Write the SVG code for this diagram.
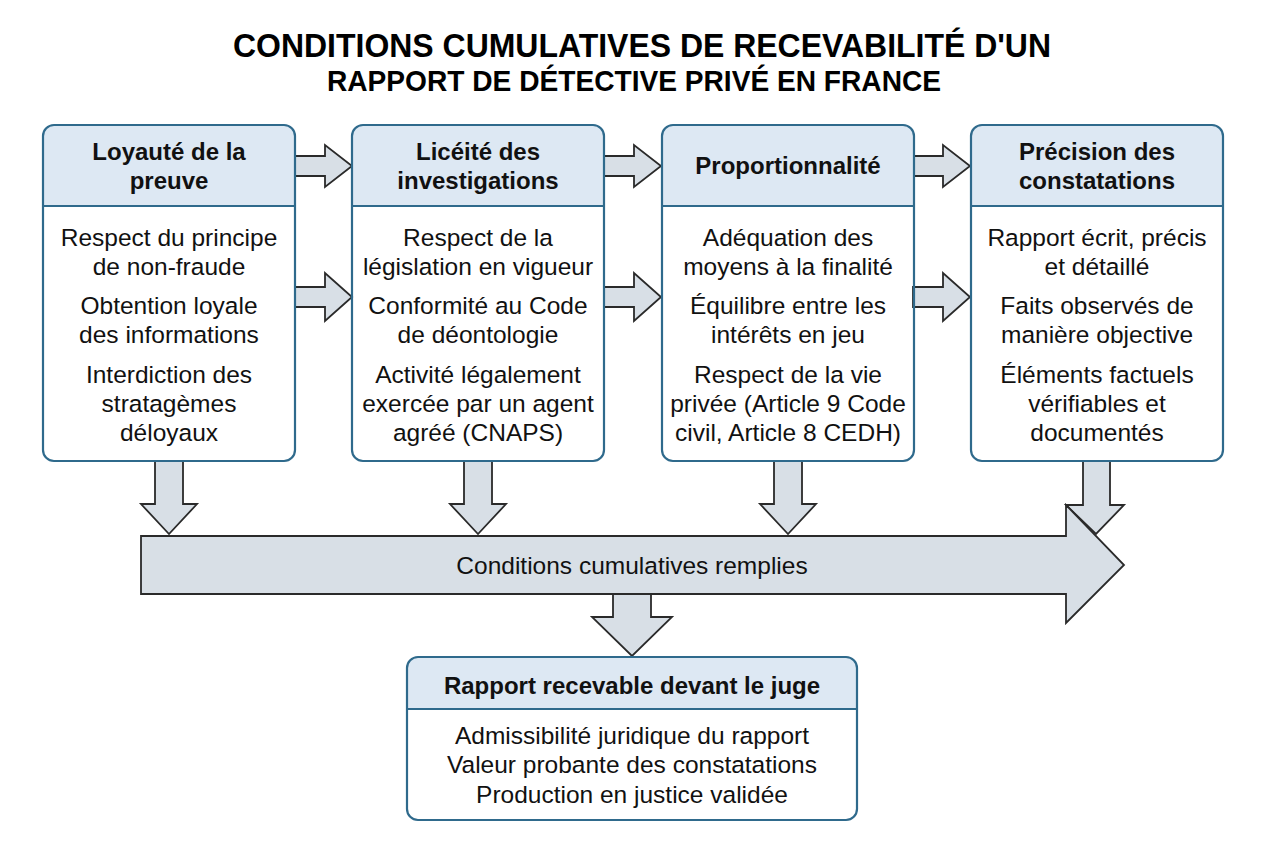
<svg xmlns="http://www.w3.org/2000/svg" width="1264" height="848" viewBox="0 0 1264 848">
<defs>
<style>
.box{fill:none;stroke:#2f6a8c;stroke-width:2.2}
.hdr{fill:#dde8f3}
.div{stroke:#2f6a8c;stroke-width:2.2}
.arr{fill:#d8dfe6;stroke:#2a2a2a;stroke-width:1.8;stroke-linejoin:miter}
.h{font-family:"Liberation Sans",Arial,sans-serif;font-weight:bold;font-size:24px;fill:#111;text-anchor:middle}
.b{font-family:"Liberation Sans",Arial,sans-serif;font-size:24.5px;fill:#111;text-anchor:middle}
.t{font-family:"Liberation Sans",Arial,sans-serif;font-weight:bold;fill:#000;text-anchor:middle}
</style>
<clipPath id="c1"><rect x="43" y="125" width="252" height="336" rx="11"/></clipPath>
<clipPath id="c2"><rect x="352" y="125" width="252" height="336" rx="11"/></clipPath>
<clipPath id="c3"><rect x="662" y="125" width="252" height="336" rx="11"/></clipPath>
<clipPath id="c4"><rect x="971" y="125" width="252" height="336" rx="11"/></clipPath>
<clipPath id="c5"><rect x="407" y="657" width="450" height="163" rx="11"/></clipPath>
</defs>
<rect width="1264" height="848" fill="#ffffff"/>

<g id="title">
<text class="t" x="642" y="57" font-size="34" textLength="818" lengthAdjust="spacingAndGlyphs">CONDITIONS CUMULATIVES DE RECEVABILITÉ D'UN</text>
<text class="t" x="634" y="91" font-size="30" textLength="614" lengthAdjust="spacingAndGlyphs">RAPPORT DE DÉTECTIVE PRIVÉ EN FRANCE</text>
</g>

<g id="connectors">
<path class="arr" d="M295,156 H325 V145 L352,166 L325,187 V176 H295 Z"/>
<path class="arr" d="M604,156 H634 V145 L661,166 L634,187 V176 H604 Z"/>
<path class="arr" d="M913,156 H943 V145 L970,166 L943,187 V176 H913 Z"/>
<path class="arr" d="M295,287 H325 V273 L352,297 L325,321 V307 H295 Z"/>
<path class="arr" d="M604,287 H634 V273 L661,297 L634,321 V307 H604 Z"/>
<path class="arr" d="M913,287 H943 V273 L970,297 L943,321 V307 H913 Z"/>
<path class="arr" d="M155,461 V504 H141 L169,534 L197,504 H183 V461 Z"/>
<path class="arr" d="M464,461 V504 H450 L478,534 L506,504 H492 V461 Z"/>
<path class="arr" d="M774,461 V504 H760 L788,534 L816,504 H802 V461 Z"/>
<path class="arr" d="M1083,461 V505 H1066 L1096,534 L1124,505 H1110 V461 Z"/>
<path class="arr" d="M141,536 H1066 V505 L1124,565 L1066,623 V594 H141 Z"/>
<text class="b" x="632" y="574" font-size="23.7">Conditions cumulatives remplies</text>
<path class="arr" d="M613,594 V617 H592 L632,656 L672,617 H651 V594 Z"/>
</g>

<g id="node1">
<rect class="hdr" x="43" y="125" width="252" height="81" clip-path="url(#c1)"/>
<line class="div" x1="43" y1="206" x2="295" y2="206"/>
<rect class="box" x="43" y="125" width="252" height="336" rx="11"/>
<text class="h" x="169" y="160">Loyauté de la</text>
<text class="h" x="169" y="189">preuve</text>
<text class="b" x="169" y="246">Respect du principe</text>
<text class="b" x="169" y="275">de non-fraude</text>
<text class="b" x="169" y="314">Obtention loyale</text>
<text class="b" x="169" y="343">des informations</text>
<text class="b" x="169" y="383">Interdiction des</text>
<text class="b" x="169" y="412">stratagèmes</text>
<text class="b" x="169" y="441">déloyaux</text>
</g>

<g id="node2">
<rect class="hdr" x="352" y="125" width="252" height="81" clip-path="url(#c2)"/>
<line class="div" x1="352" y1="206" x2="604" y2="206"/>
<rect class="box" x="352" y="125" width="252" height="336" rx="11"/>
<text class="h" x="478" y="160">Licéité des</text>
<text class="h" x="478" y="189">investigations</text>
<text class="b" x="478" y="246">Respect de la</text>
<text class="b" x="478" y="275">législation en vigueur</text>
<text class="b" x="478" y="314">Conformité au Code</text>
<text class="b" x="478" y="343">de déontologie</text>
<text class="b" x="478" y="383">Activité légalement</text>
<text class="b" x="478" y="412">exercée par un agent</text>
<text class="b" x="478" y="441">agréé (CNAPS)</text>
</g>

<g id="node3">
<rect class="hdr" x="662" y="125" width="252" height="81" clip-path="url(#c3)"/>
<line class="div" x1="662" y1="206" x2="914" y2="206"/>
<rect class="box" x="662" y="125" width="252" height="336" rx="11"/>
<text class="h" x="788" y="174">Proportionnalité</text>
<text class="b" x="788" y="246">Adéquation des</text>
<text class="b" x="788" y="275">moyens à la finalité</text>
<text class="b" x="788" y="314">Équilibre entre les</text>
<text class="b" x="788" y="343">intérêts en jeu</text>
<text class="b" x="788" y="383">Respect de la vie</text>
<text class="b" x="788" y="412">privée (Article 9 Code</text>
<text class="b" x="788" y="441">civil, Article 8 CEDH)</text>
</g>

<g id="node4">
<rect class="hdr" x="971" y="125" width="252" height="81" clip-path="url(#c4)"/>
<line class="div" x1="971" y1="206" x2="1223" y2="206"/>
<rect class="box" x="971" y="125" width="252" height="336" rx="11"/>
<text class="h" x="1097" y="160">Précision des</text>
<text class="h" x="1097" y="189">constatations</text>
<text class="b" x="1097" y="246">Rapport écrit, précis</text>
<text class="b" x="1097" y="275">et détaillé</text>
<text class="b" x="1097" y="314">Faits observés de</text>
<text class="b" x="1097" y="343">manière objective</text>
<text class="b" x="1097" y="383">Éléments factuels</text>
<text class="b" x="1097" y="412">vérifiables et</text>
<text class="b" x="1097" y="441">documentés</text>
</g>

<g id="node5">
<rect class="hdr" x="407" y="657" width="450" height="52" clip-path="url(#c5)"/>
<line class="div" x1="407" y1="709" x2="857" y2="709"/>
<rect class="box" x="407" y="657" width="450" height="163" rx="11"/>
<text class="h" x="632" y="694" font-size="24.5">Rapport recevable devant le juge</text>
<text class="b" x="632" y="744" font-size="23.7">Admissibilité juridique du rapport</text>
<text class="b" x="632" y="773" font-size="23.7">Valeur probante des constatations</text>
<text class="b" x="632" y="803" font-size="23.7">Production en justice validée</text>
</g>
</svg>
